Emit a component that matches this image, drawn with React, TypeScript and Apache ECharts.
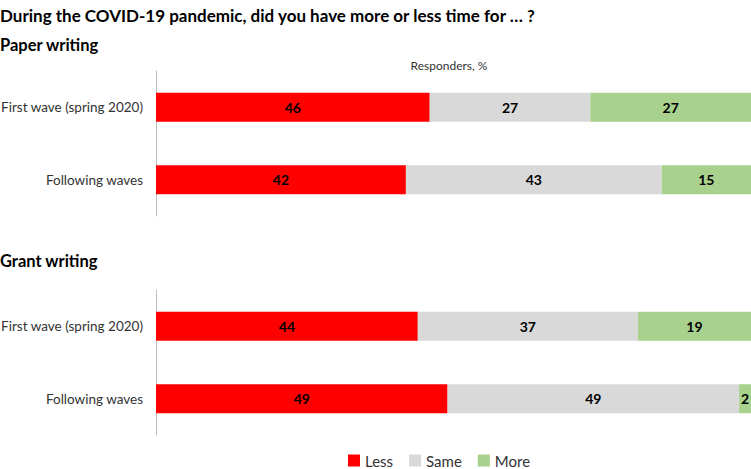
import React, { useEffect, useRef } from "react";
import * as echarts from "echarts";

const categories = ["First wave (spring 2020)", "Following waves"];
const seriesNames = ["Less", "Same", "More"];
const paperLess = [46, 42];
const paperSame = [27, 43];
const paperMore = [27, 15];
const grantLess = [44, 49];
const grantSame = [37, 49];
const grantMore = [19, 2];
const colors = ["#FF0000", "#D9D9D9", "#A9D18E"];

const FONT = "Lato, 'Open Sans', sans-serif";

export default function App() {
  const ref = useRef<HTMLDivElement>(null);
  useEffect(() => {
    document.body.style.margin = "0";
    const chart = echarts.init(ref.current!, null, { renderer: "svg" });
    const mk = (name: string, data: number[], idx: number, color: string) => ({
      name,
      type: "bar",
      stack: "s" + idx,
      xAxisIndex: idx,
      yAxisIndex: idx,
      data,
      barWidth: 29,
      itemStyle: { color },
      label: {
        show: true,
        position: "inside",
        color: "#000",
        fontWeight: "bold",
        fontSize: 14,
        fontFamily: FONT,
      },
    });
    const yAx = (gi: number) => ({
      type: "category",
      gridIndex: gi,
      data: categories,
      inverse: true,
      axisLine: { show: true, lineStyle: { color: "#BFBFBF", width: 1 } },
      axisTick: { show: false },
      axisLabel: { color: "#333", fontSize: 13.5, fontFamily: FONT, margin: 13 },
    });
    const xAx = (gi: number) => ({
      type: "value",
      gridIndex: gi,
      min: 0,
      max: 100,
      show: false,
    });
    chart.setOption({
      animation: false,
      textStyle: { fontFamily: FONT },
      title: [
        {
          text: "During the COVID-19 pandemic, did you have more or less time for … ?",
          left: 0,
          top: 7,
          padding: 0,
          textStyle: { fontSize: 17, fontWeight: "bold", color: "#000", fontFamily: FONT },
        },
        {
          text: "Paper writing",
          left: 0,
          top: 36,
          padding: 0,
          textStyle: { fontSize: 16.5, fontWeight: "bold", color: "#000", fontFamily: FONT },
        },
        {
          text: "Grant writing",
          left: 0,
          top: 252,
          padding: 0,
          textStyle: { fontSize: 16.5, fontWeight: "bold", color: "#000", fontFamily: FONT },
        },
      ],
      graphic: [
        {
          type: "text",
          x: 449,
          y: 65,
          style: {
            text: "Responders, %",
            fill: "#333",
            fontSize: 12,
            fontFamily: FONT,
            align: "center",
            verticalAlign: "middle",
          },
        },
      ],
      legend: {
        data: seriesNames,
        top: 453,
        left: 348,
        padding: 0,
        itemWidth: 12,
        itemHeight: 12,
        itemGap: 16,
        icon: "rect",
        textStyle: { fontSize: 15, color: "#333", fontFamily: FONT },
      },
      grid: [
        { left: 156, right: 0, top: 71, height: 145, outerBoundsMode: "none", containLabel: false },
        { left: 156, right: 0, top: 290, height: 145, outerBoundsMode: "none", containLabel: false },
      ],
      xAxis: [xAx(0), xAx(1)],
      yAxis: [yAx(0), yAx(1)],
      series: [
        mk("Less", paperLess, 0, colors[0]),
        mk("Same", paperSame, 0, colors[1]),
        mk("More", paperMore, 0, colors[2]),
        mk("Less", grantLess, 1, colors[0]),
        mk("Same", grantSame, 1, colors[1]),
        mk("More", grantMore, 1, colors[2]),
      ],
    });
    return () => chart.dispose();
  }, []);
  return <div ref={ref} style={{ width: 751, height: 469 }} />;
}
